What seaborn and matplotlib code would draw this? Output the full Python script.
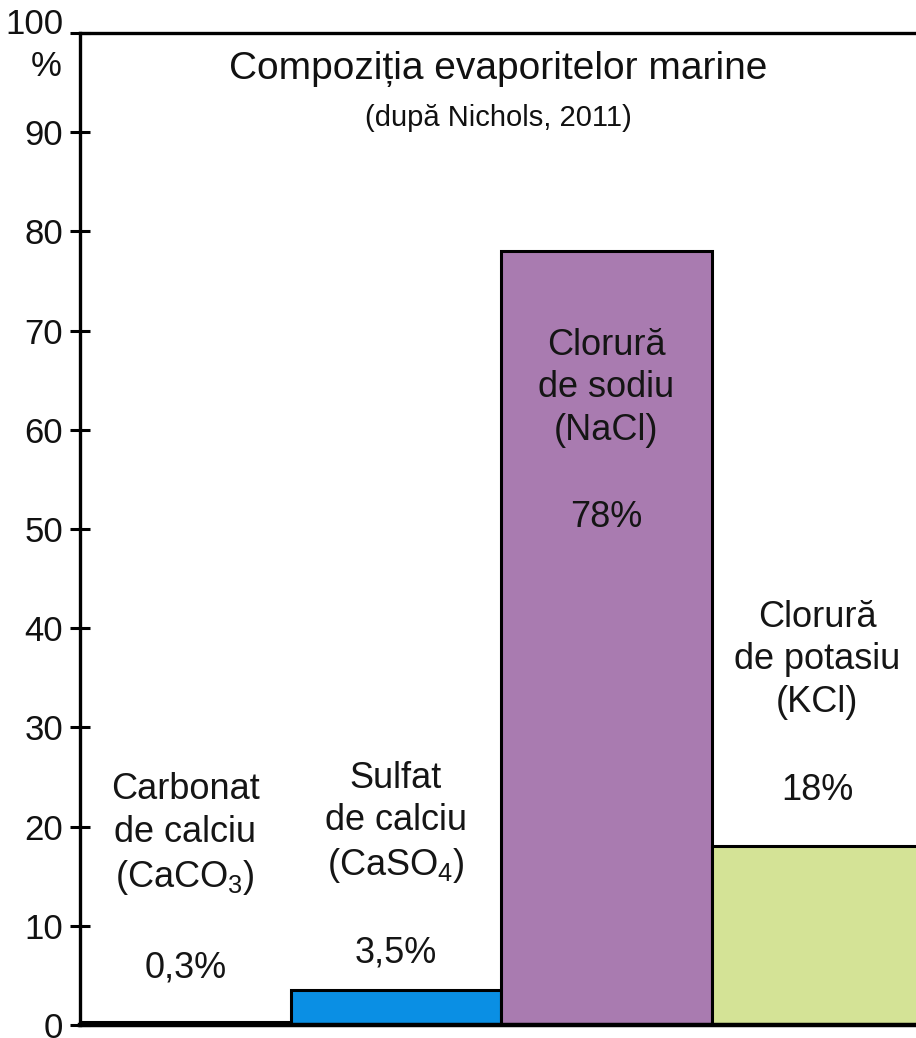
import matplotlib
matplotlib.use("Agg")
import matplotlib.pyplot as plt
import matplotlib.transforms as mtransforms
import seaborn as sns
import pandas as pd

# Marine evaporite composition (after Nichols, 2011)
categories = ["Carbonat de calciu", "Sulfat de calciu", "Clorură de sodiu", "Clorură de potasiu"]
values = [0.3, 3.5, 78, 18]
value_labels = ["0,3%", "3,5%", "78%", "18%"]
name_labels = [
    "Carbonat\nde calciu\n(CaCO$_{3}$)",
    "Sulfat\nde calciu\n(CaSO$_{4}$)",
    "Clorură\nde sodiu\n(NaCl)",
    "Clorură\nde potasiu\n(KCl)",
]
colors = ["#e9b49b", "#0a8fe4", "#a97bb0", "#d4e396"]
y_ticks = list(range(0, 101, 10))

# baseline heights (in % units) of the last name line and the percentage text
name_y = [13.9, 15.1, 59.0, 31.55]
pct_y = [4.8, 6.35, 50.2, 22.7]

sns.set_theme(style="white")
plt.rcParams["font.family"] = ["Liberation Sans", "DejaVu Sans"]
plt.rcParams["mathtext.fontset"] = "custom"
plt.rcParams["mathtext.rm"] = "Liberation Sans"
plt.rcParams["mathtext.it"] = "Liberation Sans"

df = pd.DataFrame({"cat": categories, "val": values})

fig = plt.figure(figsize=(9.16, 10.38), dpi=100)
ax = fig.add_axes([80 / 916, 13 / 1038, 836 / 916, 992 / 1038])

sns.barplot(data=df, x="cat", y="val", hue="cat", palette=colors, legend=False,
            width=1.0, edgecolor="black", linewidth=2.2, saturation=1, ax=ax)

ax.set_xlim(-0.5, 3.47)
ax.set_ylim(0, 100)
ax.set_xticks([])
ax.set_yticks(y_ticks)
ax.set_yticklabels([str(t) for t in y_ticks], fontsize=25)
ax.tick_params(axis="y", direction="inout", length=14, width=2.2, color="black",
               pad=5, labelcolor="#111111", left=True)
ax.set_xlabel("")
ax.set_ylabel("")

# lift the top tick label so the unit sign fits beneath it
top_label = ax.get_yticklabels()[-1]
top_label.set_transform(top_label.get_transform()
                        + mtransforms.ScaledTranslation(0, 9 / 72, fig.dpi_scale_trans))

for side in ["left", "top", "bottom"]:
    ax.spines[side].set_visible(True)
    ax.spines[side].set_color("black")
    ax.spines[side].set_linewidth(2.4)
ax.spines["bottom"].set_linewidth(3.2)
ax.spines["right"].set_visible(False)

for i in range(len(categories)):
    ax.text(i, name_y[i], name_labels[i], ha="center", va="baseline",
            fontsize=26, linespacing=1.28, color="#151515")
    ax.text(i, pct_y[i], value_labels[i], ha="center", va="baseline",
            fontsize=26, color="#151515")

ax.text(0.5, 0.954, "Compoziția evaporitelor marine", transform=ax.transAxes,
        ha="center", va="baseline", fontsize=28, color="#111111")
ax.text(0.5, 0.906, "(după Nichols, 2011)", transform=ax.transAxes,
        ha="center", va="baseline", fontsize=21, color="#111111")
fig.text(46 / 916, 1 - 67 / 1038, "%", ha="center", va="center",
         fontsize=25, color="#111111")

fig.savefig("out.png", dpi=100, facecolor="white")
